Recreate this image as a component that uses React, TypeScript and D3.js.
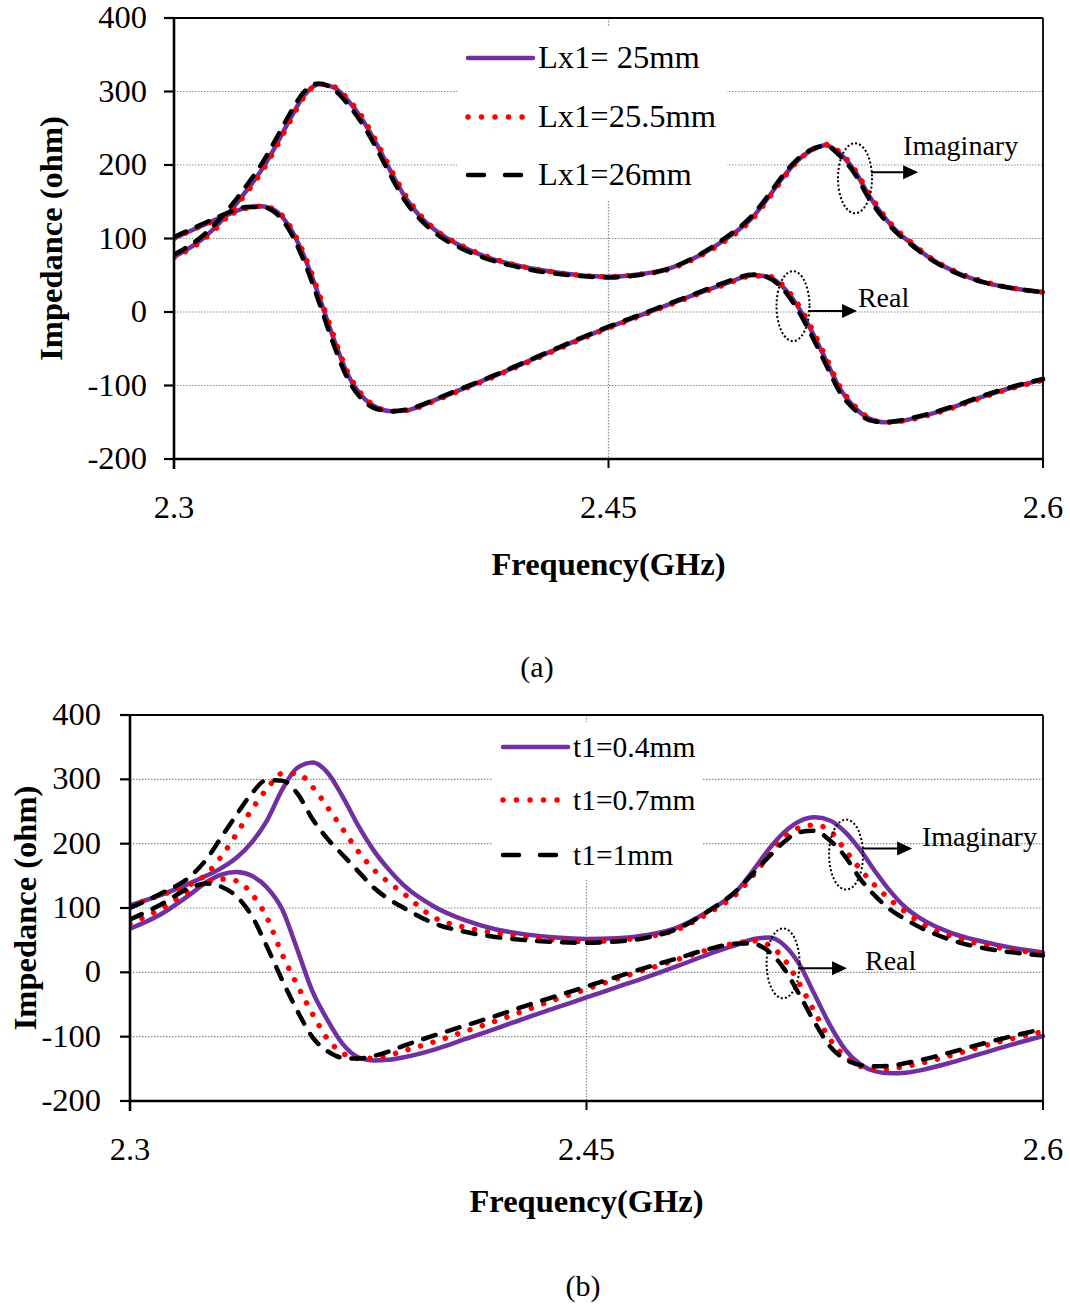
import React from "react";
import * as d3 from "d3";

// ---------- data ----------
const FREQ = [2.300, 2.310, 2.320, 2.325, 2.330, 2.335, 2.340, 2.345, 2.350, 2.355, 2.360, 2.365, 2.370, 2.375, 2.380, 2.385, 2.390, 2.400, 2.410, 2.420, 2.430, 2.440, 2.450, 2.460, 2.470, 2.480, 2.490, 2.500, 2.505, 2.510, 2.515, 2.520, 2.525, 2.530, 2.535, 2.540, 2.545, 2.550, 2.555, 2.560, 2.570, 2.580, 2.590, 2.600];

const X_TICKS = [2.3, 2.45, 2.6];
const X_TICK_LABELS = ["2.3", "2.45", "2.6"];
const Y_TICKS = [-200, -100, 0, 100, 200, 300, 400];

// panel (a)
const A_IMAG_25 = [75, 100, 140, 165, 192, 225, 262, 295, 310, 306, 288, 262, 228, 190, 155, 130, 112, 88, 72, 62, 55, 50, 48, 51, 58, 74, 98, 130, 155, 182, 205, 220, 227, 215, 192, 158, 130, 108, 92, 76, 54, 40, 32, 27];
const A_IMAG_255 = [74, 98, 137, 162, 189, 222, 259, 293, 310, 307, 290, 265, 231, 193, 158, 132, 113, 89, 73, 62, 55, 50, 48, 51, 57, 73, 96, 128, 153, 180, 204, 220, 228, 217, 194, 161, 132, 110, 93, 77, 55, 41, 32, 27];
const A_IMAG_26 = [78, 104, 146, 172, 200, 234, 270, 300, 311, 303, 283, 256, 222, 184, 150, 126, 108, 85, 70, 60, 53, 49, 47, 50, 58, 75, 100, 133, 158, 185, 207, 221, 226, 212, 188, 154, 127, 106, 90, 75, 53, 40, 32, 27];
const A_REAL_25 = [100, 118, 135, 142, 144, 138, 115, 75, 22, -35, -85, -115, -130, -135, -134, -128, -120, -104, -88, -71, -54, -37, -21, -6, 9, 24, 38, 50, 48, 35, 10, -25, -65, -105, -130, -145, -150, -149, -145, -140, -128, -114, -102, -92];
const A_REAL_255 = [100, 118, 134, 141, 144, 139, 117, 78, 26, -31, -82, -113, -129, -135, -134, -129, -121, -105, -89, -72, -55, -38, -22, -7, 8, 23, 37, 49, 49, 37, 13, -21, -61, -102, -128, -144, -150, -149, -146, -141, -129, -115, -103, -93];
const A_REAL_26 = [102, 120, 137, 143, 143, 135, 110, 68, 14, -43, -91, -119, -132, -135, -133, -127, -119, -103, -87, -70, -53, -36, -20, -5, 10, 25, 40, 51, 47, 32, 5, -31, -71, -110, -133, -147, -150, -148, -144, -139, -127, -113, -101, -91];
const A_LEGEND = ["Lx1= 25mm", "Lx1=25.5mm", "Lx1=26mm"];

// panel (b)
const B_IMAG_04 = [104, 120, 139, 150, 162, 178, 202, 236, 284, 318, 326, 310, 272, 228, 190, 160, 135, 102, 81, 67, 59, 54, 52, 53, 58, 70, 95, 130, 160, 192, 218, 235, 241, 236, 218, 190, 156, 125, 100, 83, 61, 48, 38, 31];
const B_IMAG_07 = [103, 120, 137, 152, 180, 215, 253, 285, 309, 309, 288, 256, 222, 188, 160, 140, 122, 85, 70, 61, 55, 50, 48, 50, 55, 67, 92, 125, 152, 182, 210, 225, 229, 220, 190, 160, 134, 112, 93, 76, 56, 43, 35, 29];
const B_IMAG_1 = [100, 122, 150, 175, 210, 245, 278, 299, 298, 278, 238, 207, 182, 157, 132, 114, 100, 76, 63, 55, 50, 47, 46, 48, 54, 68, 95, 130, 155, 180, 203, 218, 220, 205, 180, 145, 118, 97, 82, 69, 50, 38, 31, 26];
const B_REAL_04 = [68, 90, 122, 140, 152, 156, 150, 132, 98, 35, -30, -75, -112, -132, -137, -136, -132, -120, -104, -88, -71, -55, -39, -23, -7, 10, 28, 44, 52, 54, 42, 12, -35, -82, -120, -143, -154, -157, -156, -152, -140, -126, -112, -99];
const B_REAL_07 = [76, 98, 128, 140, 145, 142, 122, 85, 28, -20, -65, -104, -126, -134, -133, -129, -122, -108, -92, -76, -59, -42, -26, -10, 5, 20, 35, 46, 49, 42, 20, -18, -62, -104, -131, -146, -151, -150, -146, -141, -129, -115, -103, -92];
const B_REAL_1 = [82, 105, 132, 138, 133, 118, 88, 40, -12, -60, -101, -123, -133, -134, -130, -123, -114, -98, -83, -68, -52, -37, -22, -7, 8, 22, 36, 45, 44, 32, 5, -35, -78, -115, -135, -144, -146, -145, -141, -136, -124, -111, -99, -88];
const B_LEGEND = ["t1=0.4mm", "t1=0.7mm", "t1=1mm"];

// ---------- styles ----------
const FONT = "'Liberation Serif', 'Times New Roman', serif";
const STYLES = [
  { stroke: "#7030A0", width: 4.5, dash: undefined as string | undefined },
  { stroke: "#FF0000", width: 5.5, dash: "0.01 13" },
  { stroke: "#000000", width: 4.5, dash: "13 12" },
];
const LEGEND_DASH = [undefined, "0.01 13.5", "16 21"];

type Ann = { f: number; v: number };
type PanelProps = {
  id: string;
  left: number; right: number; top: number; bottom: number;
  imag: number[][]; real: number[][];
  legend: string[];
  legendBox: { x0: number; x1: number; y0: number; y1: number };
  legendRows: number[];
  legendLineX: [number, number];
  legendFont: number;
  imagEll: Ann; realEll: Ann;
  imagArrowEnd: number; realArrowEnd: number;
  imagText: Ann; realText: Ann;
  yLabelX: number; xLabelY: number;
  xTitleY: number; yTitleX: number;
  caption: string; captionX: number; captionY: number;
};

function Arrow({ x1, x2, y }: { x1: number; x2: number; y: number }) {
  return (
    <g>
      <line x1={x1} x2={x2 - 12} y1={y} y2={y} stroke="#000" strokeWidth={2} />
      <path d={`M${x2},${y} L${x2 - 15},${y - 7} L${x2 - 15},${y + 7} Z`} fill="#000" />
    </g>
  );
}

function Panel(p: PanelProps) {
  const x = d3.scaleLinear().domain([2.3, 2.6]).range([p.left, p.right]);
  const y = d3.scaleLinear().domain([-200, 400]).range([p.bottom, p.top]);
  const line = d3
    .line<number>()
    .x((_, i) => x(FREQ[i]))
    .y((v) => y(v))
    .curve(d3.curveMonotoneX);
  const lb = p.legendBox;
  const grid = "#8c8c8c";
  return (
    <g>
      <defs>
        <clipPath id={`clip-${p.id}`}>
          <rect x={p.left} y={p.top - 3} width={p.right - p.left + 4} height={p.bottom - p.top + 3} />
        </clipPath>
      </defs>
      {/* grid */}
      {Y_TICKS.filter((t) => t > -200 && t < 400).map((t) => (
        <line key={t} x1={p.left} x2={p.right} y1={y(t)} y2={y(t)} stroke={grid} strokeWidth={1.2} strokeDasharray="1.5 1.5" />
      ))}
      <line x1={x(2.45)} x2={x(2.45)} y1={p.top} y2={p.bottom} stroke={grid} strokeWidth={1.2} strokeDasharray="1.5 1.5" />
      {/* legend background */}
      <rect x={lb.x0} y={lb.y0} width={lb.x1 - lb.x0} height={lb.y1 - lb.y0} fill="#fff" />
      {/* curves */}
      <g clipPath={`url(#clip-${p.id})`}>
        {[0, 1, 2].map((k) => (
          <g key={k}>
            {[p.imag[k], p.real[k]].map((arr, j) => (
              <path
                key={j}
                d={line(arr) || ""}
                fill="none"
                stroke={STYLES[k].stroke}
                strokeWidth={STYLES[k].width}
                strokeDasharray={STYLES[k].dash}
                strokeLinecap="round"
                strokeLinejoin="round"
              />
            ))}
          </g>
        ))}
      </g>
      {/* legend */}
      {p.legend.map((t, k) => (
        <g key={t}>
          <line
            x1={p.legendLineX[0]}
            x2={p.legendLineX[1]}
            y1={p.legendRows[k]}
            y2={p.legendRows[k]}
            stroke={STYLES[k].stroke}
            strokeWidth={STYLES[k].width}
            strokeDasharray={LEGEND_DASH[k]}
            strokeLinecap="round"
          />
          <text x={p.legendLineX[1] + 5} y={p.legendRows[k] + 10} fontFamily={FONT} fontSize={p.legendFont} fill="#000">
            {t}
          </text>
        </g>
      ))}
      {/* axes frame */}
      <line x1={p.left} x2={p.right} y1={p.top} y2={p.top} stroke="#000" strokeWidth={2.2} />
      <line x1={p.right} x2={p.right} y1={p.top} y2={p.bottom + 8} stroke="#000" strokeWidth={1.8} />
      <line x1={p.left} x2={p.left} y1={p.top} y2={p.bottom + 10} stroke="#000" strokeWidth={2.6} />
      <line x1={p.left - 1} x2={p.right} y1={p.bottom} y2={p.bottom} stroke="#000" strokeWidth={2.6} />
      {Y_TICKS.map((t) => (
        <g key={t}>
          <line x1={p.left - 10} x2={p.left} y1={y(t)} y2={y(t)} stroke="#000" strokeWidth={2.2} />
          <text x={p.yLabelX} y={y(t) + 10} textAnchor="end" fontFamily={FONT} fontSize={32.5}>
            {t}
          </text>
        </g>
      ))}
      {X_TICKS.map((t, i) => (
        <g key={t}>
          <line x1={x(t)} x2={x(t)} y1={p.bottom} y2={p.bottom + 9} stroke="#000" strokeWidth={2} />
          <text x={x(t)} y={p.xLabelY} textAnchor="middle" fontFamily={FONT} fontSize={32.5}>
            {X_TICK_LABELS[i]}
          </text>
        </g>
      ))}
      {/* titles */}
      <text x={x(2.45)} y={p.xTitleY} textAnchor="middle" fontFamily={FONT} fontWeight="bold" fontSize={32.5}>
        Frequency(GHz)
      </text>
      <text
        transform={`translate(${p.yTitleX},${y(100)}) rotate(-90)`}
        textAnchor="middle"
        fontFamily={FONT}
        fontWeight="bold"
        fontSize={32.5}
      >
        Impedance (ohm)
      </text>
      <text x={p.captionX} y={p.captionY} textAnchor="middle" fontFamily={FONT} fontSize={30}>
        {p.caption}
      </text>
      {/* annotations */}
      <ellipse cx={x(p.imagEll.f)} cy={y(p.imagEll.v)} rx={17} ry={35} fill="none" stroke="#000" strokeWidth={2} strokeDasharray="2 2.2" />
      <ellipse cx={x(p.realEll.f)} cy={y(p.realEll.v)} rx={16.5} ry={35} fill="none" stroke="#000" strokeWidth={2} strokeDasharray="2 2.2" />
      <Arrow x1={x(p.imagEll.f) + 16} x2={x(p.imagArrowEnd)} y={y(p.imagEll.v) - 6} />
      <Arrow x1={x(p.realEll.f) + 15} x2={x(p.realArrowEnd)} y={y(p.realEll.v) + 5} />
      <text x={x(p.imagText.f)} y={y(p.imagText.v)} fontFamily={FONT} fontSize={28}>
        Imaginary
      </text>
      <text x={x(p.realText.f)} y={y(p.realText.v)} fontFamily={FONT} fontSize={28}>
        Real
      </text>
    </g>
  );
}

export default function App() {
  return (
    <svg width={1070} height={1306} style={{ position: "absolute", left: 0, top: 0, background: "#fff" }}>
      <rect x={0} y={0} width={1070} height={1306} fill="#fff" />
      <Panel
        id="a"
        left={174} right={1043} top={18} bottom={459}
        imag={[A_IMAG_25, A_IMAG_255, A_IMAG_26]}
        real={[A_REAL_25, A_REAL_255, A_REAL_26]}
        legend={A_LEGEND}
        legendBox={{ x0: 457, x1: 727, y0: 27, y1: 201 }}
        legendRows={[58, 117, 175]}
        legendLineX={[468, 533]}
        legendFont={32.5}
        imagEll={{ f: 2.5351, v: 182 }}
        realEll={{ f: 2.5137, v: 8 }}
        imagArrowEnd={2.5569}
        realArrowEnd={2.5358}
        imagText={{ f: 2.5517, v: 213 }}
        realText={{ f: 2.5361, v: 7 }}
        yLabelX={147} xLabelY={518}
        xTitleY={575} yTitleX={62}
        caption="(a)" captionX={537} captionY={677}
      />
      <Panel
        id="b"
        left={130} right={1043} top={715} bottom={1101}
        imag={[B_IMAG_04, B_IMAG_07, B_IMAG_1]}
        real={[B_REAL_04, B_REAL_07, B_REAL_1]}
        legend={B_LEGEND}
        legendBox={{ x0: 493, x1: 703, y0: 722, y1: 880 }}
        legendRows={[747, 800, 855]}
        legendLineX={[503, 568]}
        legendFont={29.5}
        imagEll={{ f: 2.5353, v: 183 }}
        realEll={{ f: 2.5146, v: 14 }}
        imagArrowEnd={2.557}
        realArrowEnd={2.5356}
        imagText={{ f: 2.5602, v: 197 }}
        realText={{ f: 2.5415, v: 3 }}
        yLabelX={101} xLabelY={1160}
        xTitleY={1212} yTitleX={36}
        caption="(b)" captionX={583} captionY={1296}
      />
    </svg>
  );
}
